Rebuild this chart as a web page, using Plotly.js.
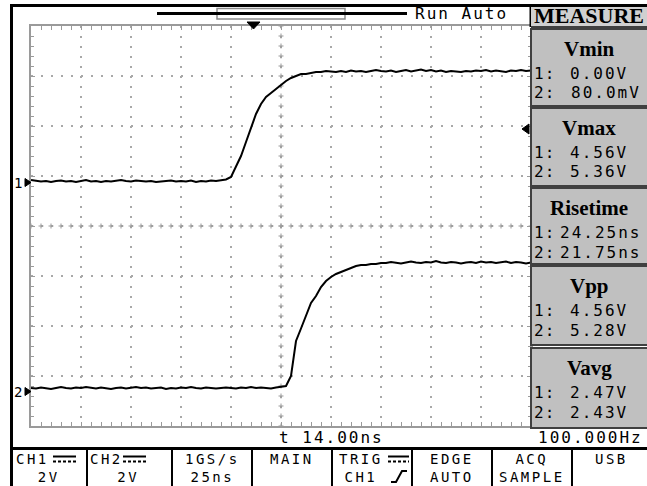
<!DOCTYPE html>
<html><head><meta charset="utf-8">
<script src="https://cdn.plot.ly/plotly-3.0.1.min.js"></script>
<style>html,body{margin:0;padding:0;background:#fff;}#chart{width:647px;height:486px;}</style>
</head><body><div id="chart"></div>
<script>
// ---------------- data ----------------
const timeStartNs = -125;      // left edge of the screen
const sampleStepNs = 2.5;
const nsPerDiv = 25;
const voltsPerDiv = 2;
const ch1OffsetDiv = 0.87;     // channel 1 ground position (divisions from centre)
const ch2OffsetDiv = -3.31;    // channel 2 ground position

const ch1Volts = [
  0.10,0.06,0.04,0.06,0.02,0.06,0.08,0.04,0.06,0.02,
  0.06,0.10,0.04,0.06,0.02,0.06,0.04,0.08,0.10,0.06,
  0.04,0.08,0.06,0.04,0.06,0.02,0.04,0.06,0.08,0.04,
  0.06,0.04,0.08,0.02,0.06,0.04,0.08,0.06,0.10,0.12,
  0.22,0.66,1.06,1.62,2.22,2.74,3.14,3.42,3.58,3.74,
  3.90,4.06,4.18,4.26,4.34,4.34,4.38,4.42,
  4.42,4.46,4.44,4.42,4.46,4.42,4.48,4.44,4.46,4.42,
  4.46,4.50,4.46,4.44,4.48,4.42,4.46,4.50,4.44,4.48,
  4.52,4.46,4.50,4.44,4.48,4.42,4.46,4.44,4.42,4.46,
  4.44,4.48,4.46,4.50,4.44,4.48,4.46,4.42,4.48,4.46,
  4.50,4.46,4.48
];
const ch2Volts = [
  0.14,0.12,0.16,0.14,0.10,0.14,0.18,0.14,0.12,0.16,
  0.14,0.18,0.14,0.12,0.16,0.14,0.10,0.14,0.16,0.12,
  0.14,0.18,0.14,0.16,0.12,0.14,0.16,0.10,0.14,0.12,
  0.16,0.14,0.18,0.14,0.12,0.16,0.14,0.12,0.14,0.16,
  0.14,0.12,0.16,0.14,0.18,0.14,0.16,0.14,0.12,0.16,
  0.18,
  0.22,0.62,2.02,2.52,3.02,3.54,3.82,4.18,4.42,4.58,
  4.70,4.78,4.86,4.94,5.02,5.06,5.06,5.10,5.10,5.14,
  5.14,5.18,5.16,5.12,5.16,5.20,5.16,5.14,5.18,5.16,
  5.22,5.16,5.14,5.18,5.16,5.12,5.16,5.18,5.14,5.20,
  5.16,5.18,5.14,5.16,5.20,5.14,5.18,5.16,5.12,5.16
];

const menuTitle = "MEASURE";
const runState = "Run Auto";
const measureTitles = ["Vmin","Vmax","Risetime","Vpp","Vavg"];
const ch1Measures = ["0.00V","4.56V","24.25ns","4.56V","2.47V"];
const ch2Measures = ["80.0mV","5.36V","21.75ns","5.28V","2.43V"];
const statusTime = "t 14.00ns";
const statusFreq = "100.000Hz";
const buttonTop = ["CH1","CH2","1GS/s","MAIN","TRIG","EDGE","ACQ","USB"];
const buttonBottom = ["2V","2V","25ns","","CH1","AUTO","SAMPLE",""];

// ---------------- layout helpers ----------------
const W = 647, H = 486;
const GL = 31, GR = 531, GT = 26, GB = 426;
const X = p => p / W, Y = p => 1 - p / H;
const mono = "DejaVu Sans Mono", serif = "Liberation Serif";
const NB = '\u00a0';
const shapes = [], annotations = [];
function ln(x0,y0,x1,y1,color,width,dash){
  shapes.push({type:'line',xref:'paper',yref:'paper',x0:X(x0),y0:Y(y0),x1:X(x1),y1:Y(y1),
    line:{color:color,width:width,dash:dash||'solid'}});
}
function rect(x0,y0,x1,y1,fill,color,width){
  shapes.push({type:'rect',xref:'paper',yref:'paper',x0:X(x0),y0:Y(y0),x1:X(x1),y1:Y(y1),
    fillcolor:fill,line:{color:color||'rgba(0,0,0,0)',width:width||0}});
}
function poly(pts,fill,stroke,width,closed){
  const d = pts.map((p,i)=>(i?'L':'M')+X(p[0])+','+Y(p[1])).join(' ')+(closed?' Z':'');
  shapes.push({type:'path',xref:'paper',yref:'paper',path:d,
    fillcolor:fill||'rgba(0,0,0,0)',line:{color:stroke||'rgba(0,0,0,0)',width:width||0}});
}
function sp(t,n){ return '<span style="letter-spacing:'+n+'px">'+t+'</span>'; }
function txt(t,x,y,o){
  const a = Object.assign({text:t,x:X(x),y:Y(y),xref:'paper',yref:'paper',showarrow:false,
    xanchor:'left',yanchor:'middle',borderpad:0,font:{family:mono,size:16,color:'#000'}}, o||{});
  annotations.push(a);
}
function pad(t,n){ let s=t; while(s.length<n) s+=NB; return s; }

// ---------------- screen chrome ----------------
// top bar
rect(217,8.5,345,19,'rgba(0,0,0,0)','#8a8a8a',1.5);
ln(157,13.5,407,13.5,'#000',3);
txt(sp(runState,2),414,13);
ln(530.5,5,530.5,27,'#000',2);
// header
rect(531,7,647,27,'#d0d0d0');
ln(531,27,647,27,'#404040',2);
txt(menuTitle,533,16,{font:{family:serif,size:22,color:'#000',weight:700}});
// outer border lines
ln(10,5.5,647,5.5,'#000',3);
ln(11.5,5,11.5,486,'#000',3);
// trigger markers
poly([[247,22],[260,22],[253.5,29]],'#000','#000',1,true);
poly([[529,124],[529,134],[522,129]],'#000','#000',1,true);
// channel markers
const ch1Px = GT + (4 - ch1OffsetDiv) * (GB-GT)/8;
const ch2Px = GT + (4 - ch2OffsetDiv) * (GB-GT)/8;
txt('1',13,ch1Px,{font:{family:mono,size:14,color:'#000'}});
txt('2',13,ch2Px,{font:{family:mono,size:14,color:'#000'}});
poly([[25,ch1Px-4],[25,ch1Px+4],[31,ch1Px]],'#000','#000',1,true);
poly([[25,ch2Px-4],[25,ch2Px+4],[31,ch2Px]],'#000','#000',1,true);

// measure panels
const boxes = [[29,106],[108,186],[188,264],[266,345],[348,428]];
boxes.forEach((b,i)=>{
  rect(531,b[0],648,b[1],'#c0c0c0','#404040',2);
  txt('<b>'+measureTitles[i]+'</b>',589,b[0]+20,{xanchor:'center',font:{family:serif,size:21,color:'#000'}});
  txt(sp('1:',1),533,b[0]+44);
  txt(sp('2:',1),533,b[0]+64);
  const r1 = ch1Measures[i].length>5 ? 642 : 629;
  const r2 = ch2Measures[i].length>5 ? 642 : 629;
  txt(sp(ch1Measures[i],2),r1,b[0]+44,{xanchor:'right'});
  txt(sp(ch2Measures[i],2),r2,b[0]+64,{xanchor:'right'});
});

// status row
txt(sp(statusTime,2),278,437);
txt(sp(statusFreq,2),644,437,{xanchor:'right'});
ln(10,448.5,647,448.5,'#000',3);

// buttons (two text rows in one block per button)
const seps = [87,172,252,332,412,492,572];
seps.forEach(s=>ln(s,449,s,486,'#000',2));
const btnFont = {family:mono,size:14,color:'#000'};
const btnCenters = [49,128,212,292,372,452,532,611];
const btnPadTop = [6,7,0,0,6,0,0,0];
const btnPadBottom = [0,0,0,0,5,0,0,0];
buttonTop.forEach((t,i)=>{
  const top = btnPadTop[i] ? pad(t,btnPadTop[i]) : t;
  const bot = btnPadBottom[i] ? pad(buttonBottom[i],btnPadBottom[i]) : buttonBottom[i];
  const body = bot ? sp(top,2.5)+'<br>'+sp(bot,2.5) : sp(top,2.5);
  const yc = bot ? 467.5 : 459;
  txt(body,btnCenters[i],yc,{xanchor:'center',align:'center',font:btnFont});
});
// DC coupling symbols
[[53,76],[123,146],[388,409]].forEach(s=>{
  ln(s[0],456.5,s[1],456.5,'#000',2);
  ln(s[0],461.5,s[1],461.5,'#000',2,'3px,2px');
});
// rising edge symbol
poly([[391,482],[396,482],[402,471],[407,471]],null,'#000',2,false);

// centre-line crosses (graticule)
const crossColor = '#9a9a9a';
const padDivY = 2.5/50, padNsX = 2.5/50*nsPerDiv;
shapes.push({type:'line',xref:'x',yref:'y',layer:'between',x0:0,x1:0,y0:-4-padDivY,y1:4+padDivY,line:{color:crossColor,width:1,dash:'5px,5px'}});
shapes.push({type:'line',xref:'x',yref:'y',layer:'between',x0:0,x1:0,y0:-4-padDivY/5,y1:4+padDivY/5,line:{color:crossColor,width:5,dash:'1px,9px'}});
shapes.push({type:'line',xref:'x',yref:'y',layer:'between',y0:0,y1:0,x0:-125-padNsX,x1:125+padNsX,line:{color:crossColor,width:1,dash:'5px,5px'}});
shapes.push({type:'line',xref:'x',yref:'y',layer:'between',y0:0,y1:0,x0:-125-padNsX/5,x1:125+padNsX/5,line:{color:crossColor,width:5,dash:'1px,9px'}});

// ---------------- traces ----------------
const traces = [
  {type:'scatter',mode:'lines',x0:timeStartNs,dx:sampleStepNs,y:ch1Volts,xaxis:'x',yaxis:'y2',
   line:{color:'#000',width:2},hoverinfo:'skip'},
  {type:'scatter',mode:'lines',x0:timeStartNs,dx:sampleStepNs,y:ch2Volts,xaxis:'x',yaxis:'y3',
   line:{color:'#000',width:2},hoverinfo:'skip'}
];

const gridAxis = {
  showgrid:true, gridcolor:'#a8a8a8', gridwidth:2, griddash:'2px,8px',
  showline:true, linecolor:'#9a9a9a', linewidth:2, mirror:'allticks',
  ticks:'inside', ticklen:4, tickcolor:'#9a9a9a', tickwidth:1,
  showticklabels:false, zeroline:false, fixedrange:true
};
const layout = {
  width:W, height:H, margin:{l:0,r:0,t:0,b:0}, paper_bgcolor:'#fff', plot_bgcolor:'#fff',
  showlegend:false,
  xaxis:Object.assign({}, gridAxis, {domain:[X(GL),X(GR)], range:[-5*nsPerDiv,5*nsPerDiv], tick0:0, dtick:nsPerDiv,
    minor:{dtick:nsPerDiv/5, ticks:'inside', ticklen:3, tickcolor:'#9a9a9a', showgrid:false}}),
  yaxis:Object.assign({}, gridAxis, {domain:[Y(GB),Y(GT)], range:[-4,4], tick0:0, dtick:1,
    minor:{dtick:0.2, ticks:'inside', ticklen:3, tickcolor:'#9a9a9a', showgrid:false}}),
  yaxis2:{overlaying:'y', domain:[Y(GB),Y(GT)], visible:false, fixedrange:true,
    range:[(-4-ch1OffsetDiv)*voltsPerDiv,(4-ch1OffsetDiv)*voltsPerDiv]},
  yaxis3:{overlaying:'y', domain:[Y(GB),Y(GT)], visible:false, fixedrange:true,
    range:[(-4-ch2OffsetDiv)*voltsPerDiv,(4-ch2OffsetDiv)*voltsPerDiv]},
  shapes:shapes, annotations:annotations
};
Plotly.newPlot('chart', traces, layout, {staticPlot:true, displayModeBar:false});
</script>
</body></html>
